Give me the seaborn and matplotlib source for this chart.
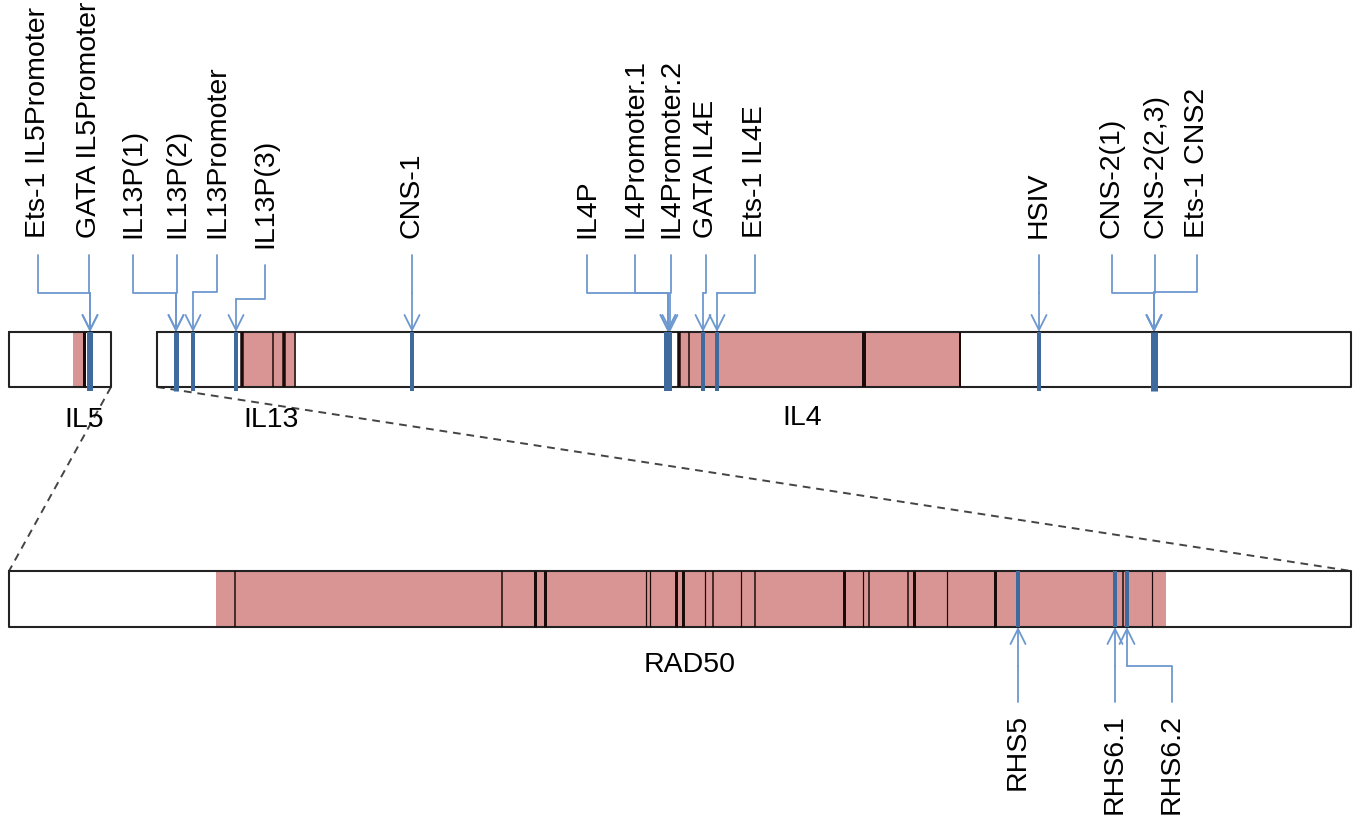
import matplotlib
matplotlib.use("Agg")
import matplotlib.pyplot as plt
import seaborn as sns

# diagram coordinates are in picture pixels (x to the right, y downward)
top_y = (332, 387)
rad_y = (571, 627)

# gene boxes on the top track: (left, right)
top_boxes = [(9, 111), (157, 1351)]
rad_box = (9, 1351)

# exon (pink) spans
top_exons = [(73, 84), (242, 296), (679, 960)]
rad_exons = [(216, 1166)]

# black exon boundary lines: position, width
top_black = [84, 242, 273, 284, 295, 679, 689, 864, 960]
top_black_w = [3, 3.5, 1.5, 3.5, 1.5, 3.5, 1.5, 4, 2]
rad_black = [235, 502, 535, 545, 646, 650, 676, 683, 705, 713, 741, 755,
             844, 863, 869, 908, 914, 947, 995, 1123, 1152]
rad_black_w = [1.5, 1.5, 3, 3, 1.2, 1.2, 3, 3, 1.2, 1.5, 1.2, 1.5,
               3, 1.2, 1.5, 1.5, 3, 1.2, 3, 1.5, 1.2]

# regulatory elements on top track
top_labels = ["Ets-1 IL5Promoter", "GATA IL5Promoter", "IL13P(1)", "IL13P(2)",
              "IL13Promoter", "IL13P(3)", "CNS-1", "IL4P", "IL4Promoter.1",
              "IL4Promoter.2", "GATA IL4E", "Ets-1 IL4E", "HSIV", "CNS-2(1)",
              "CNS-2(2,3)", "Ets-1 CNS2"]
top_label_x = [38, 89, 133, 177, 217, 265, 412, 587, 635, 671, 706, 755,
               1039, 1112, 1155, 1197]
top_elbow_y = [293, 293, 293, 293, 292, 299, 293, 293, 293, 293, 293, 293,
               293, 293, 293, 292]
top_line_start = [255, 255, 255, 255, 255, 265, 255, 255, 255, 255, 255, 255,
                  255, 255, 255, 255]
top_target_x = [90, 90, 176, 176, 193, 236, 412, 668, 668, 670, 703, 717,
                1039, 1154, 1154, 1154]

# blue marks inside the boxes
top_marks = [90, 176, 193, 236, 412, 668, 703, 717, 1039, 1154]
top_marks_w = [6, 5, 4, 4, 4, 8, 4, 4, 4, 7]

# regulatory elements on RAD50
rad_labels = ["RHS5", "RHS6.1", "RHS6.2"]
rad_label_x = [1018, 1115, 1172]
rad_elbow_y = [666, 666, 666]
rad_target_x = [1018, 1115, 1127]
rad_marks = [1018, 1115, 1127]
rad_marks_w = [4, 4, 4]

gene_names = ["IL5", "IL13", "IL4", "RAD50"]
gene_name_x = [84, 271, 802, 690]
gene_name_y = [420, 420, 418, 665]

pink = "#D99594"
mark_blue = "#3F6A9D"
lead_blue = "#6D98CF"
fsize = 20.5

sns.set_theme(style="white")
plt.rcParams["font.family"] = ["Liberation Sans", "DejaVu Sans"]

fig = plt.figure(figsize=(13.6, 8.19), dpi=100)
ax = fig.add_axes([0, 0, 1, 1])
ax.set_xlim(0, 1360)
ax.set_ylim(819, 0)
ax.axis("off")


def outline(ax, left, right, y0, y1):
    ax.plot([left, right, right, left, left], [y0, y0, y1, y1, y0],
            color="#222222", lw=1.5, zorder=3)


for a, b in top_exons:
    ax.fill_between([a, b], top_y[0], top_y[1], color=pink, lw=0, zorder=2)
for a, b in rad_exons:
    ax.fill_between([a, b], rad_y[0], rad_y[1], color=pink, lw=0, zorder=2)

for left, right in top_boxes:
    outline(ax, left, right, *top_y)
outline(ax, rad_box[0], rad_box[1], *rad_y)

for x, w in zip(top_black, top_black_w):
    ax.vlines(x, top_y[0], top_y[1], color="#1a0a0a", lw=w * 0.72, zorder=4)
for x, w in zip(rad_black, rad_black_w):
    ax.vlines(x, rad_y[0], rad_y[1], color="#1a0a0a", lw=w * 0.72, zorder=4)

for x, w in zip(top_marks, top_marks_w):
    ax.vlines(x, top_y[0], top_y[1] + 4, color=mark_blue, lw=w * 0.72, zorder=5)
for x, w in zip(rad_marks, rad_marks_w):
    ax.vlines(x, rad_y[0], rad_y[1], color=mark_blue, lw=w * 0.72, zorder=5)

# zoom lines from the top track down to RAD50
ax.plot([111, rad_box[0]], [top_y[1], rad_y[0]], color="#444444", lw=1.4,
        ls=(0, (4, 3)), zorder=0)
ax.plot([157, rad_box[1]], [top_y[1], rad_y[0]], color="#444444", lw=1.4,
        ls=(0, (4, 3)), zorder=0)

arrow = dict(arrowstyle="->,head_length=0.9,head_width=0.45", color=lead_blue,
             lw=1.3, shrinkA=0, shrinkB=0)

for lab, lx, ey, ly, tx in zip(top_labels, top_label_x, top_elbow_y,
                               top_line_start, top_target_x):
    ax.plot([lx, lx, tx], [ly, ey, ey], color=lead_blue, lw=1.3, zorder=6)
    ax.annotate("", xy=(tx, top_y[0]), xytext=(tx, ey), arrowprops=arrow, zorder=6)
    ax.text(lx, ly - 17, lab, rotation=90, ha="center", va="bottom",
            fontsize=fsize, color="black")

for lab, lx, ey, tx in zip(rad_labels, rad_label_x, rad_elbow_y, rad_target_x):
    ax.plot([lx, lx, tx], [702, ey, ey], color=lead_blue, lw=1.3, zorder=6)
    ax.annotate("", xy=(tx, rad_y[1]), xytext=(tx, ey), arrowprops=arrow, zorder=6)
    ax.text(lx, 714, lab, rotation=90, ha="center", va="top",
            fontsize=fsize, color="black")

for name, x, y in zip(gene_names, gene_name_x, gene_name_y):
    ax.text(x, y, name, ha="center", va="center", fontsize=fsize, color="black")

fig.savefig("out.png", dpi=100)
